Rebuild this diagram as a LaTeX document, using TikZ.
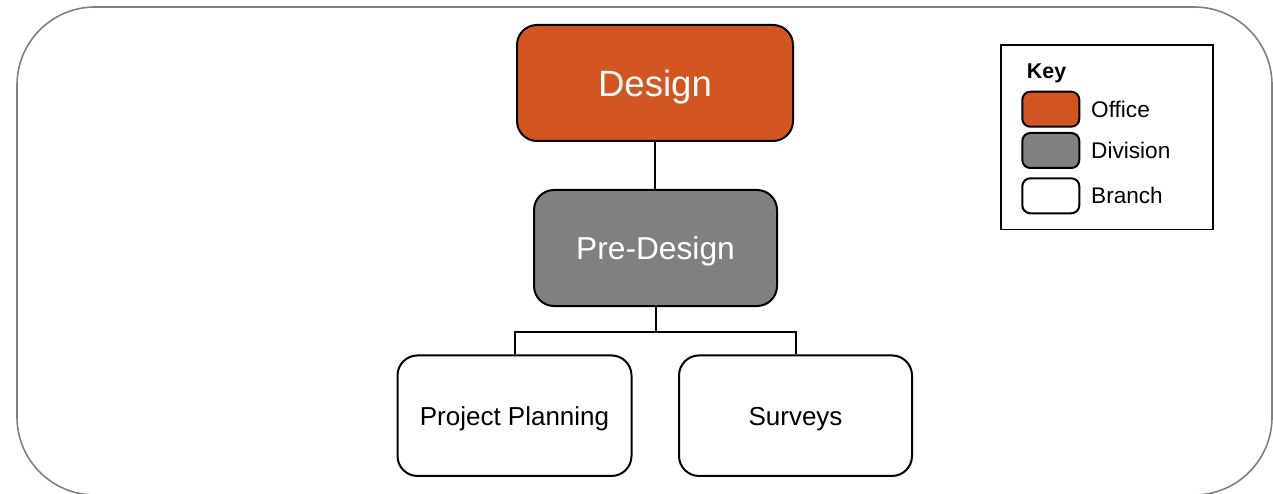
\documentclass[tikz,border=0pt]{standalone}
\usepackage{fontspec}
\setmainfont{Liberation Sans}
\definecolor{officeC}{RGB}{211,85,34}
\definecolor{divisionC}{RGB}{128,128,128}
\definecolor{frameC}{RGB}{128,128,128}
\begin{document}
\begin{tikzpicture}[x=1pt,y=-1pt,
  box/.style={draw=black,line width=2pt,rounded corners=20pt,inner sep=0pt,
    text depth=0pt,align=center},
  officebox/.style={box,fill=officeC,text=white,text height=26.2pt,font=\fontsize{36.6}{40}\selectfont},
  divisionbox/.style={box,fill=divisionC,text=white,text height=22.7pt,font=\fontsize{31.7}{36}\selectfont},
  branchbox/.style={box,fill=white,text=black,text height=18.6pt,font=\fontsize{26}{30}\selectfont},
  swatch/.style={draw=black,line width=2pt,rounded corners=8pt,minimum width=57pt,minimum height=35pt,inner sep=0pt},
  keylabel/.style={anchor=base west,inner sep=0pt,font=\fontsize{22.6}{26}\selectfont},
  link/.style={draw=black,line width=2pt}
]
\useasboundingbox (0,0) rectangle (1273,494);
% outer frame
\draw[frameC,line width=1.6pt,rounded corners=78pt] (17,7) rectangle (1272,495);

% main boxes
\node[officebox,minimum width=276pt,minimum height=116pt] (D) at (655,83) {Design};
\node[divisionbox,minimum width=243pt,minimum height=116pt] (P) at (655.5,248) {Pre-Design};
\node[branchbox,minimum width=234pt,minimum height=120.5pt] (PP) at (514.5,415.7) {Project Planning};
\node[branchbox,minimum width=233pt,minimum height=120.5pt] (S) at (795.5,415.7) {Surveys};

% connectors
\draw[link] (D.south) -- (D.south |- P.north);
\coordinate (bar) at ([yshift=-25.4pt]P.south);
\draw[link] (P.south) -- (bar) -| (PP.north);
\draw[link] (bar) -| (S.north);

% key
\node[draw=black,line width=1.5pt,minimum width=211.7pt,minimum height=184.3pt,inner sep=0pt] (K) at (1106.9,137.2) {};
\node[anchor=base west,inner sep=0pt,font=\bfseries\fontsize{21.4}{25}\selectfont] (Kt) at (1026.7,78.3) {Key};
\node[swatch,fill=officeC] (K1) at (1050.8,109.2) {};
\node[swatch,fill=divisionC] (K2) at (1050.8,150.5) {};
\node[swatch,fill=white] (K3) at (1050.8,195.8) {};
\node[keylabel] (L1) at (1091,117.3) {Office};
\node[keylabel] (L2) at (1091,158.3) {Division};
\node[keylabel] (L3) at (1091,204) {Branch};
\end{tikzpicture}
\end{document}
